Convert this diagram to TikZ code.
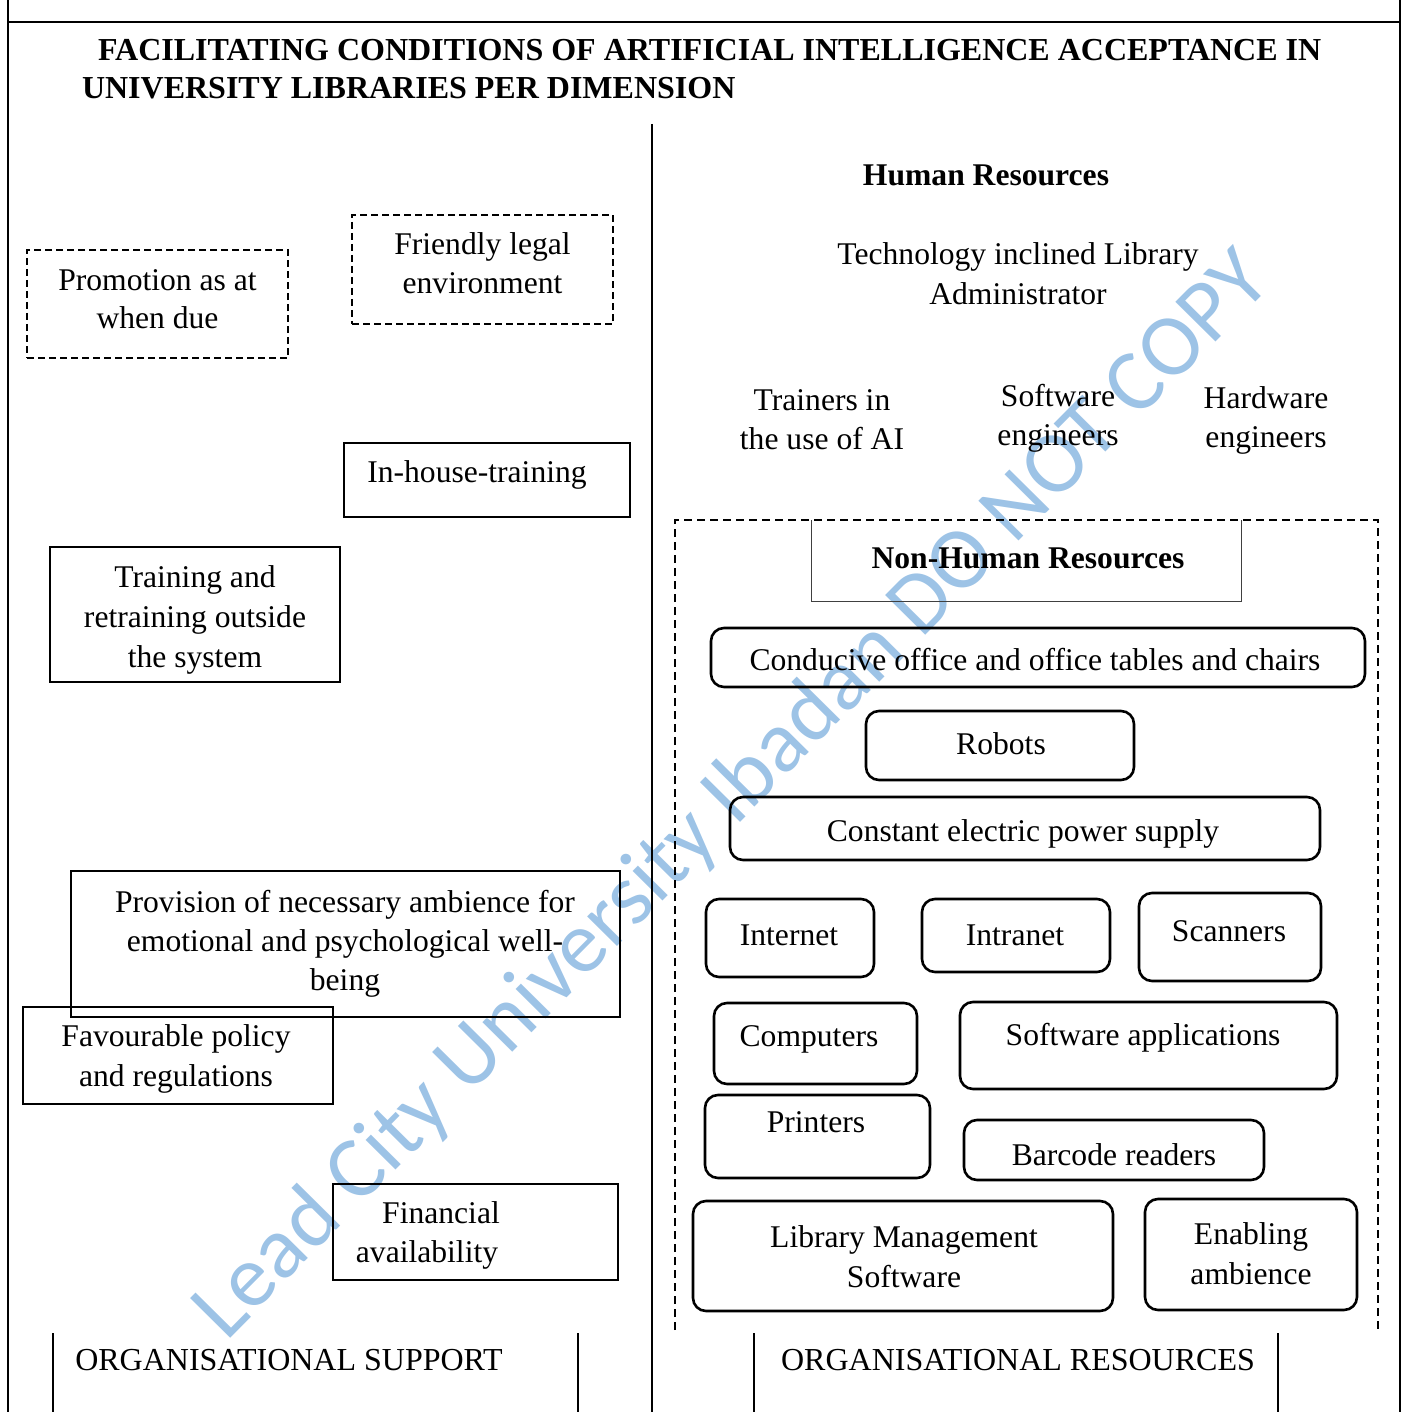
\documentclass[tikz,border=0pt]{standalone}
\usepackage{fontspec}
\setmainfont{Liberation Serif}
\newfontfamily\wmfont{Carlito}
\definecolor{wmblue}{HTML}{9DC3E6}
\newcommand\mkbox[6]{\node[#6, minimum width={#4-#2}, minimum height={#5-#3}] (#1) at ({(#2+#4)/2},{(#3+#5)/2}) {};}
\begin{document}
\begin{tikzpicture}[x=1pt,y=-1pt,
  every node/.style={inner sep=0pt, outer sep=0pt},
  txt/.style={font=\fontsize{31.6}{39}\selectfont, align=center, anchor=base},
  btxt/.style={font=\fontsize{31.6}{39}\selectfont\bfseries, align=center, anchor=base},
  sbox/.style={draw, line width=2.4pt, rectangle},
  dbox/.style={draw, line width=2.2pt, rectangle, dash pattern=on 7pt off 4pt},
  rbox/.style={draw, line width=2.6pt, rectangle, rounded corners=13pt},
  plainbox/.style={rectangle},
  frame/.style={line width=1.2pt},
  bigdash/.style={line width=2pt, dash pattern=on 8pt off 5pt},
  nhline/.style={line width=1pt, black!75}
]
\useasboundingbox (0,0) rectangle (1404,1412);
% watermark
\node[anchor=base west, rotate=45.3, font=\wmfont\fontsize{88}{88}\selectfont, text=wmblue] (wm) at (226,1342) {Lead City University Ibadan DO NOT COPY};

% frame
\draw[line width=2pt] (8,22) -- (1400,22);
\draw[frame] (8,0) -- (8,1412);
\draw[frame] (1400,0) -- (1400,1412);
\draw[line width=2.6pt] (8,523) -- (8,605);
\draw[line width=2.6pt] (1400,523) -- (1400,605);
\draw[line width=1.5pt] (652,124) -- (652,1412);

% title
\node[anchor=base west, font=\fontsize{32}{38}\selectfont\bfseries] (t1) at (98,61) {FACILITATING CONDITIONS OF ARTIFICIAL INTELLIGENCE ACCEPTANCE IN};
\node[anchor=base west, font=\fontsize{32}{38}\selectfont\bfseries] (t2) at (82,99) {UNIVERSITY LIBRARIES PER DIMENSION};

% left column
\mkbox{b1}{27}{250}{288}{358}{dbox}
\node[txt, font=\fontsize{31.6}{38}\selectfont] (l1) at (157.5,328) {Promotion as at\\when due};
\mkbox{b2}{352}{215}{613}{324}{dbox}
\node[txt] (l2) at (482.5,294) {Friendly legal\\environment};
\mkbox{b3}{344}{443}{630}{517}{sbox}
\node[txt] (l3) at (477,482) {In-house-training};
\mkbox{b4}{50}{547}{340}{682}{sbox}
\node[txt, font=\fontsize{31.6}{40}\selectfont] (l4) at (195,667) {Training and\\retraining outside\\the system};
\mkbox{b5}{71}{871}{620}{1017}{sbox}
\node[txt] (l5) at (345,990) {Provision of necessary ambience for\\emotional and psychological well-\\being};
\mkbox{b6}{23}{1007}{333}{1104}{sbox}
\node[txt, font=\fontsize{31.6}{40}\selectfont] (l6) at (176,1086) {Favourable policy\\and regulations};
\mkbox{b7}{333}{1184}{618}{1280}{sbox}
\node[txt] (l7) at (427,1262) {\hspace*{28pt}Financial\\availability};

% bottom labels
\node[txt, font=\fontsize{32}{39}\selectfont] (os) at (289,1370) {ORGANISATIONAL SUPPORT};
\draw[frame] (53,1333) -- (53,1412);
\draw[frame] (578,1333) -- (578,1412);
\node[txt, font=\fontsize{32}{39}\selectfont] (or) at (1018,1370) {ORGANISATIONAL RESOURCES};
\draw[frame] (754,1333) -- (754,1412);
\draw[frame] (1278,1333) -- (1278,1412);

% right column: human resources
\node[btxt] (hr) at (986,186) {Human Resources};
\node[txt, font=\fontsize{31.6}{40}\selectfont] (h1) at (1018,305) {Technology inclined Library\\Administrator};
\node[txt] (h2) at (822,449) {Trainers in\\the use of AI};
\node[txt] (h3) at (1058,445) {Software\\engineers};
\node[txt] (h4) at (1266,447) {Hardware\\engineers};

% non-human resources
\draw[bigdash] (675,1330) -- (675,520) -- (1378,520) -- (1378,1330);
\mkbox{nh}{811}{520}{1241}{601}{plainbox}
\draw[nhline] (nh.north west) -- (nh.south west) -- (nh.south east) -- (nh.north east);
\node[btxt] (nht) at (1028,568) {Non-Human Resources};

\mkbox{r1}{711}{628}{1365}{687}{rbox}
\node[txt] (r1t) at (1035,670) {Conducive office and office tables and chairs};
\mkbox{r2}{866}{711}{1134}{780}{rbox}
\node[txt] (r2t) at (1001,754) {Robots};
\mkbox{r3}{730}{797}{1320}{860}{rbox}
\node[txt] (r3t) at (1023,841) {Constant electric power supply};
\mkbox{r4}{706}{899}{874}{977}{rbox}
\node[txt] (r4t) at (789,945) {Internet};
\mkbox{r5}{922}{899}{1110}{972}{rbox}
\node[txt] (r5t) at (1015,945) {Intranet};
\mkbox{r6}{1139}{893}{1321}{981}{rbox}
\node[txt] (r6t) at (1229,941) {Scanners};
\mkbox{r7}{714}{1003}{917}{1084}{rbox}
\node[txt] (r7t) at (809,1046) {Computers};
\mkbox{r8}{960}{1002}{1337}{1089}{rbox}
\node[txt] (r8t) at (1143,1045) {Software applications};
\mkbox{r9}{705}{1095}{930}{1178}{rbox}
\node[txt] (r9t) at (816,1132) {Printers};
\mkbox{r10}{964}{1120}{1264}{1180}{rbox}
\node[txt] (r10t) at (1114,1165) {Barcode readers};
\mkbox{r11}{693}{1201}{1113}{1311}{rbox}
\node[txt, font=\fontsize{31.6}{40}\selectfont] (r11t) at (904,1287) {Library Management\\Software};
\mkbox{r12}{1145}{1199}{1357}{1310}{rbox}
\node[txt, font=\fontsize{31.6}{40}\selectfont] (r12t) at (1251,1284) {Enabling\\ambience};
\end{tikzpicture}
\end{document}
